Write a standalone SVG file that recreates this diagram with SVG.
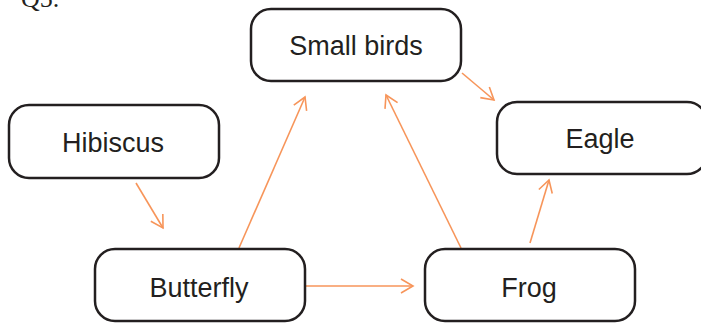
<svg xmlns="http://www.w3.org/2000/svg" width="701" height="323" viewBox="0 0 701 323">
<style>
.box{fill:#fff;stroke:#231f20;stroke-width:2.5}
.lbl{font-family:"Liberation Sans",Arial,sans-serif;font-size:27px;fill:#231f20;text-anchor:middle}
.edge{stroke:#f7955a;stroke-width:1.6;fill:none;marker-end:url(#ah)}
</style>
<defs>
<marker id="ah" viewBox="0 0 16 16" refX="14" refY="8" markerWidth="16" markerHeight="16" markerUnits="userSpaceOnUse" orient="auto">
<path d="M2,1 L14,8 L2,15" fill="none" stroke="#f7955a" stroke-width="1.6"/>
</marker>
</defs>
<text x="21" y="7" font-family="'Liberation Serif',serif" font-size="26" fill="#231f20">Q5.</text>
<g id="connectors">
<line class="edge" x1="462" y1="73" x2="494" y2="100"/>
<line class="edge" x1="136" y1="183" x2="163" y2="228"/>
<line class="edge" x1="239" y1="248" x2="305" y2="97"/>
<line class="edge" x1="461" y1="248" x2="386" y2="95"/>
<line class="edge" x1="530" y1="243" x2="549" y2="180"/>
<line class="edge" x1="306" y1="286" x2="413" y2="286"/>
</g>
<g id="small-birds"><rect class="box" x="251" y="9" width="210" height="72" rx="20"/><text class="lbl" x="356" y="55">Small birds</text></g>
<g id="hibiscus"><rect class="box" x="9" y="105" width="210" height="73" rx="20"/><text class="lbl" x="113" y="152">Hibiscus</text></g>
<g id="eagle"><rect class="box" x="497" y="102" width="210" height="72" rx="20"/><text class="lbl" x="600" y="148">Eagle</text></g>
<g id="butterfly"><rect class="box" x="95" y="249" width="210" height="72" rx="20"/><text class="lbl" x="199" y="297">Butterfly</text></g>
<g id="frog"><rect class="box" x="425" y="249" width="210" height="72" rx="20"/><text class="lbl" x="529" y="297">Frog</text></g>
</svg>
